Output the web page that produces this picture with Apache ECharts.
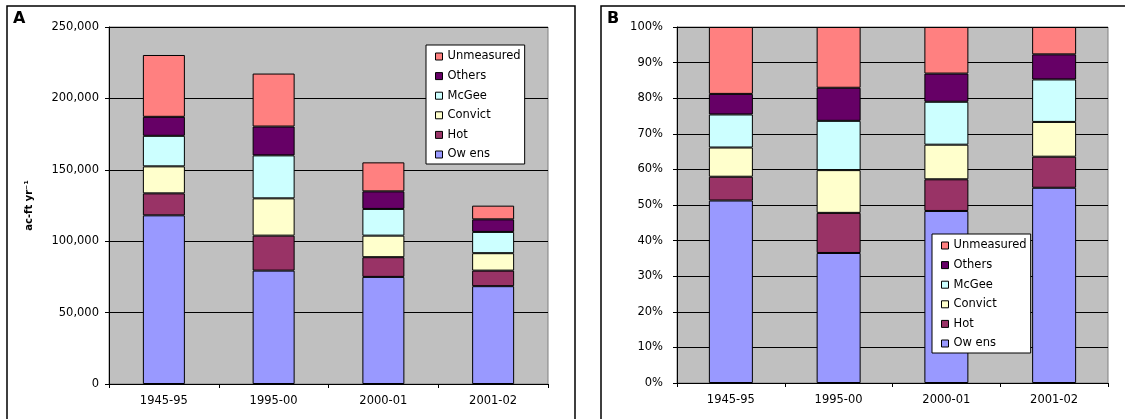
<!DOCTYPE html>
<html>
<head>
<meta charset="utf-8">
<script src="https://cdn.jsdelivr.net/npm/echarts@6/dist/echarts.min.js"></script>
<style>
html,body{margin:0;padding:0;background:#fff;}
#chart{width:1125px;height:419px;}
</style>
</head>
<body>
<div id="chart"></div>
<script>
// ---- data (ac-ft per year) ----
var categories = ['1945-95', '1995-00', '2000-01', '2001-02'];
var seriesNames = ['Owens', 'Hot', 'Convict', 'McGee', 'Others', 'Unmeasured'];
var legendLabels = ['Ow ens', 'Hot', 'Convict', 'McGee', 'Others', 'Unmeasured'];
var owens      = [118100, 79400, 75000, 68500];
var hot        = [15400, 24500, 13800, 10900];
var convict    = [18900, 26100, 15100, 12200];
var mcgee      = [21400, 30100, 18700, 14900];
var others     = [13300, 20200, 12300, 8800];
var unmeasured = [43300, 37100, 20300, 9600];
var yTicksA = [0, 50000, 100000, 150000, 200000, 250000];
var yTicksB = [0, 10, 20, 30, 40, 50, 60, 70, 80, 90, 100];

var colors = ['#9999FF', '#993366', '#FFFFCC', '#CCFFFF', '#660066', '#FF8080'];
var values = [owens, hot, convict, mcgee, others, unmeasured];

var totals = categories.map(function (c, i) {
  return values.reduce(function (s, arr) { return s + arr[i]; }, 0);
});

var FONT = 'DejaVu Sans, Verdana, sans-serif';
var FS = 11.5;

var series = [];
values.forEach(function (arr, k) {
  series.push({
    name: legendLabels[k], type: 'bar', stack: 'A', xAxisIndex: 0, yAxisIndex: 0,
    barWidth: 42, data: arr,
    itemStyle: { color: colors[k], borderColor: '#000', borderWidth: 1 }
  });
});
values.forEach(function (arr, k) {
  series.push({
    name: legendLabels[k], type: 'bar', stack: 'B', xAxisIndex: 1, yAxisIndex: 1,
    barWidth: 44, data: arr.map(function (v, i) { return v / totals[i] * 100; }),
    itemStyle: { color: colors[k], borderColor: '#000', borderWidth: 1 }
  });
});

function legendCfg(left, top, width, height) {
  return {
    orient: 'vertical', left: left, top: top, width: width, height: height,
    data: legendLabels.slice().reverse(),
    backgroundColor: '#fff', borderColor: '#000', borderWidth: 1, borderRadius: 0,
    padding: [5, 4, 3, 9], itemGap: 6.6, itemWidth: 7, itemHeight: 7,
    icon: 'rect', selectedMode: false,
    itemStyle: { borderColor: '#000', borderWidth: 1 },
    textStyle: { fontFamily: FONT, fontSize: FS, color: '#000', lineHeight: 13 }
  };
}

function xAxisCfg(gridIndex) {
  return {
    type: 'category', gridIndex: gridIndex, data: categories,
    axisLine: { show: true, lineStyle: { color: '#000', width: 1 } },
    axisTick: { show: true, alignWithLabel: false, length: 4, lineStyle: { color: '#000' } },
    axisLabel: { fontFamily: FONT, fontSize: FS, color: '#000', margin: 11 },
    splitLine: { show: false }
  };
}

var option = {
  animation: false,
  backgroundColor: '#fff',
  graphic: [
    { type: 'rect', shape: { x: 7, y: 6, width: 568, height: 440 }, style: { fill: null, stroke: '#000', lineWidth: 1.5 }, z: 0 },
    { type: 'rect', shape: { x: 601, y: 6, width: 560, height: 440 }, style: { fill: null, stroke: '#000', lineWidth: 1.5 }, z: 0 },
    { type: 'text', left: 13, top: 11, style: { text: 'A', font: 'bold 16px ' + FONT, fill: '#000' } },
    { type: 'text', left: 607, top: 11, style: { text: 'B', font: 'bold 16px ' + FONT, fill: '#000' } }
  ],
  grid: [
    { left: 109, top: 27, width: 439, height: 357, show: true, backgroundColor: '#C0C0C0', borderColor: '#808080', borderWidth: 1, containLabel: false },
    { left: 677, top: 27, width: 431, height: 356, show: true, backgroundColor: '#C0C0C0', borderColor: '#808080', borderWidth: 1, containLabel: false }
  ],
  legend: [legendCfg(426, 45, 104, 118), legendCfg(932, 234, 100, 117)],
  xAxis: [xAxisCfg(0), xAxisCfg(1)],
  yAxis: [
    {
      type: 'value', gridIndex: 0, min: yTicksA[0], max: yTicksA[yTicksA.length - 1], interval: yTicksA[1] - yTicksA[0],
      name: 'ac-ft yr\u207B\u00B9', nameLocation: 'middle', nameRotate: 90, nameGap: 75,
      nameTextStyle: { fontFamily: FONT, fontSize: 10, fontWeight: 'bold', color: '#000' },
      axisLine: { show: true, lineStyle: { color: '#000' } },
      axisTick: { show: true, length: 4, lineStyle: { color: '#000' } },
      axisLabel: { fontFamily: FONT, fontSize: FS, color: '#000', margin: 10,
        formatter: function (v) { return v.toLocaleString('en-US'); } },
      splitLine: { show: true, lineStyle: { color: '#000', width: 1 } }
    },
    {
      type: 'value', gridIndex: 1, min: yTicksB[0], max: yTicksB[yTicksB.length - 1], interval: yTicksB[1] - yTicksB[0],
      axisLine: { show: true, lineStyle: { color: '#000' } },
      axisTick: { show: true, length: 4, lineStyle: { color: '#000' } },
      axisLabel: { fontFamily: FONT, fontSize: FS, color: '#000', margin: 14, formatter: '{value}%' },
      splitLine: { show: true, lineStyle: { color: '#000', width: 1 } }
    }
  ],
  series: series
};

var chart = echarts.init(document.getElementById('chart'), null, { renderer: 'canvas' });
chart.setOption(option);
</script>
</body>
</html>
